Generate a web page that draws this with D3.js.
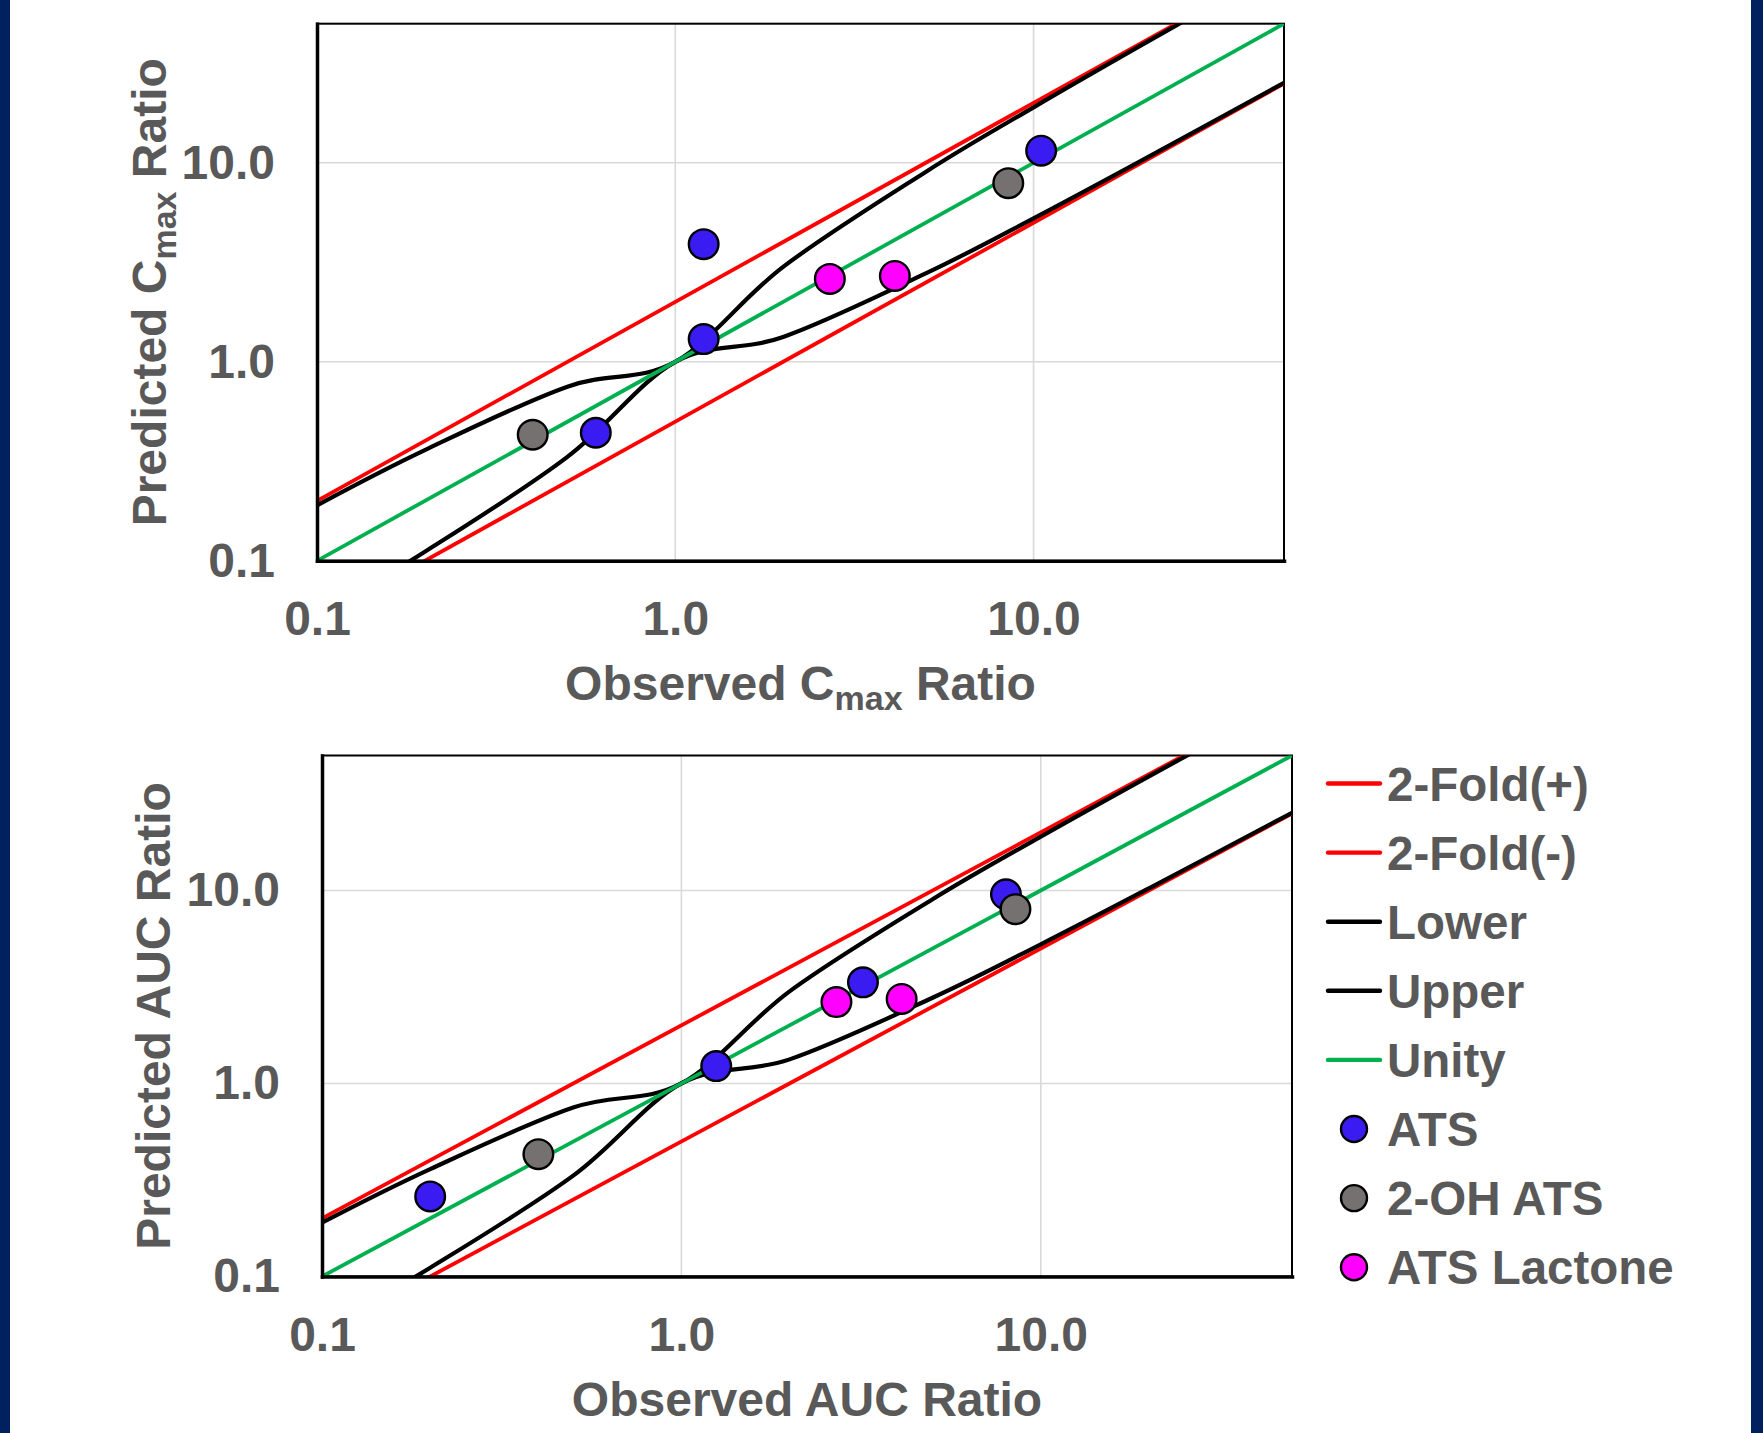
<!DOCTYPE html>
<html>
<head>
<meta charset="utf-8">
<script src="https://cdn.jsdelivr.net/npm/d3@7/dist/d3.min.js"></script>
<style>
  html, body { margin: 0; padding: 0; background: #fff; }
  svg { display: block; }
  .chart__text { font-family: "Liberation Sans", Arial, sans-serif; font-weight: bold; fill: #595959; white-space: pre; }
</style>
</head>
<body>
<div id="chart"></div>
<script>
// Axis ticks and range
const axisTicks = [0.1, 1, 10];
const gridTicks = [1, 10];
const axisDomain = [0.1, 50];

// Reference lines (2-fold, unity)
const lineX = [0.1, 50];
const foldPlusY = [0.2, 100];
const foldMinusY = [0.05, 25];
const unityY = [0.1, 50];

// Lower / upper limit curves
const limitX = [0.1, 0.2, 0.5, 1, 2, 5, 10, 20, 50];
const lowerY = [0.053, 0.111, 0.333, 1, 1.333, 2.78, 5.26, 10.26, 25.25];
const upperY = [0.19, 0.36, 0.75, 1, 3, 9, 19, 39, 99];

// Cmax ratios (observed, predicted)
const cmaxAtsObs = [0.60, 1.20, 1.20, 10.5];
const cmaxAtsPred = [0.44, 3.9, 1.30, 11.5];
const cmaxOhObs = [0.40, 8.5];
const cmaxOhPred = [0.43, 7.9];
const cmaxLacObs = [2.70, 4.1];
const cmaxLacPred = [2.61, 2.7];

// AUC ratios (observed, predicted)
const aucAtsObs = [0.20, 1.25, 3.2, 8.0];
const aucAtsPred = [0.26, 1.23, 3.34, 9.55];
const aucOhObs = [0.40, 8.5];
const aucOhPred = [0.43, 8.0];
const aucLacObs = [2.7, 4.1];
const aucLacPred = [2.64, 2.74];

// Legend entries
const legendNames = ["2-Fold(+)", "2-Fold(-)", "Lower", "Upper", "Unity", "ATS", "2-OH ATS", "ATS Lactone"];

const W = 1763, H = 1433;
const zip = (xs, ys) => xs.map((v, i) => ({x: v, y: ys[i]}));

const lineSeries = [
  {name: "2-Fold(+)", color: "#ff0000", width: 3.8, data: zip(lineX, foldPlusY)},
  {name: "2-Fold(-)", color: "#ff0000", width: 3.8, data: zip(lineX, foldMinusY)},
  {name: "Lower", color: "#000000", width: 4.2, data: zip(limitX, lowerY), smooth: true},
  {name: "Upper", color: "#000000", width: 4.2, data: zip(limitX, upperY), smooth: true},
  {name: "Unity", color: "#00b050", width: 3.8, data: zip(lineX, unityY)}
];

const markerColors = {"ATS": "#3a1cf2", "2-OH ATS": "#767171", "ATS Lactone": "#ff00ff"};

const svg = d3.select("#chart")
  .append("svg")
  .attr("width", W)
  .attr("height", H);

// Page frame (navy side bars)
svg.append("rect").attr("x", 0).attr("y", 0).attr("width", W).attr("height", H).attr("fill", "#fff");
svg.append("rect").attr("x", 0).attr("y", 0).attr("width", 10).attr("height", H).attr("fill", "#002060");
svg.append("rect").attr("x", 1751).attr("y", 0).attr("width", W - 1751).attr("height", H).attr("fill", "#002060");

/**
 * Draw one log-log panel
 */
function drawPanel(box, points, xTitle, yTitle, yTitleX, id)
{
  const x = d3.scaleLog().domain(axisDomain).range([box.left, box.right]);
  const y = d3.scaleLog().domain(axisDomain).range([box.bottom, box.top]);

  svg.append("clipPath").attr("id", id)
    .append("rect")
    .attr("x", box.left).attr("y", box.top)
    .attr("width", box.right - box.left).attr("height", box.bottom - box.top);

  // Grid lines
  svg.append("g").selectAll("line.gx").data(gridTicks).join("line")
    .attr("x1", d => x(d)).attr("x2", d => x(d))
    .attr("y1", box.top).attr("y2", box.bottom)
    .attr("stroke", "#d9d9d9").attr("stroke-width", 1.6);
  svg.append("g").selectAll("line.gy").data(gridTicks).join("line")
    .attr("x1", box.left).attr("x2", box.right)
    .attr("y1", d => y(d)).attr("y2", d => y(d))
    .attr("stroke", "#d9d9d9").attr("stroke-width", 1.6);

  // Plot border
  svg.append("rect")
    .attr("x", box.left).attr("y", box.top)
    .attr("width", box.right - box.left).attr("height", box.bottom - box.top)
    .attr("fill", "none").attr("stroke", "#000").attr("stroke-width", 2);

  // Lines and curves
  const plot = svg.append("g").attr("clip-path", "url(#" + id + ")");
  lineSeries.forEach(s => {
    const gen = d3.line()
      .x(d => x(d.x))
      .y(d => y(d.y))
      .curve(s.smooth ? d3.curveCardinal.tension(0) : d3.curveLinear);
    plot.append("path")
      .attr("d", gen(s.data))
      .attr("fill", "none")
      .attr("stroke", s.color)
      .attr("stroke-width", s.width)
      .attr("stroke-linejoin", "round");
  });

  // Axes
  const gX = svg.append("g")
    .attr("transform", "translate(0," + box.bottom + ")")
    .call(d3.axisBottom(x).tickValues(axisTicks).tickFormat(d3.format(".1f")).tickSize(0).tickSizeOuter(0).tickPadding(40.5));
  const gY = svg.append("g")
    .attr("transform", "translate(" + box.left + ",0)")
    .call(d3.axisLeft(y).tickValues(axisTicks).tickFormat(d3.format(".1f")).tickSize(0).tickSizeOuter(0).tickPadding(42));
  [gX, gY].forEach(g => {
    g.select(".domain").attr("stroke", "#000").attr("stroke-width", 3.5).attr("stroke-linecap", "square");
    g.selectAll("text").attr("class", "chart__text").attr("font-size", 48).attr("fill", null);
  });

  // Markers
  points.forEach(p => {
    svg.append("g").selectAll("circle").data(zip(p.obs, p.pred)).join("circle")
      .attr("cx", d => x(d.x))
      .attr("cy", d => y(d.y))
      .attr("r", 14.8)
      .attr("fill", markerColors[p.name])
      .attr("stroke", "#000")
      .attr("stroke-width", 2.4);
  });

  // Axis titles
  const xt = svg.append("text")
    .attr("class", "chart__text")
    .attr("x", (box.left + box.right) / 2)
    .attr("y", box.bottom + 139)
    .attr("text-anchor", "middle")
    .attr("font-size", 48);
  xTitle.forEach(t => xt.append("tspan").text(t.text)
    .attr("font-size", t.sub ? 34 : 48).attr("dy", t.dy || 0));

  const yt = svg.append("text")
    .attr("class", "chart__text")
    .attr("transform", "translate(" + yTitleX + "," + ((box.top + box.bottom) / 2) + ") rotate(-90)")
    .attr("text-anchor", "middle")
    .attr("font-size", 48);
  yTitle.forEach(t => yt.append("tspan").text(t.text)
    .attr("font-size", t.sub ? 34 : 48).attr("dy", t.dy || 0));
}

// Top panel: Cmax
drawPanel(
  {left: 317, top: 23.7, right: 1284, bottom: 560.8},
  [
    {name: "ATS", obs: cmaxAtsObs, pred: cmaxAtsPred},
    {name: "2-OH ATS", obs: cmaxOhObs, pred: cmaxOhPred},
    {name: "ATS Lactone", obs: cmaxLacObs, pred: cmaxLacPred}
  ],
  [{text: "Observed C"}, {text: "max", sub: true, dy: 10}, {text: " Ratio", dy: -10}],
  [{text: "Predicted C"}, {text: "max", sub: true, dy: 10}, {text: " Ratio", dy: -10}],
  166, "clip-top"
);

// Bottom panel: AUC
drawPanel(
  {left: 322, top: 755.5, right: 1292, bottom: 1276.5},
  [
    {name: "ATS", obs: aucAtsObs, pred: aucAtsPred},
    {name: "2-OH ATS", obs: aucOhObs, pred: aucOhPred},
    {name: "ATS Lactone", obs: aucLacObs, pred: aucLacPred}
  ],
  [{text: "Observed AUC Ratio"}],
  [{text: "Predicted AUC Ratio"}],
  170, "clip-bottom"
);

// Legend
const legend = svg.append("g");
const rowY = i => 783.5 + i * 69.1;
legendNames.forEach((name, i) => {
  const s = lineSeries.find(l => l.name === name);
  if (s) {
    legend.append("line")
      .attr("x1", 1328).attr("x2", 1380)
      .attr("y1", rowY(i)).attr("y2", rowY(i))
      .attr("stroke", s.color).attr("stroke-width", 4.4).attr("stroke-linecap", "round");
  } else {
    legend.append("circle")
      .attr("cx", 1354).attr("cy", rowY(i)).attr("r", 13)
      .attr("fill", markerColors[name]).attr("stroke", "#000").attr("stroke-width", 2.4);
  }
  legend.append("text")
    .attr("class", "chart__text")
    .attr("x", 1387)
    .attr("y", rowY(i))
    .attr("dy", "0.36em")
    .attr("font-size", 47.5)
    .text(name);
});
</script>
</body>
</html>
